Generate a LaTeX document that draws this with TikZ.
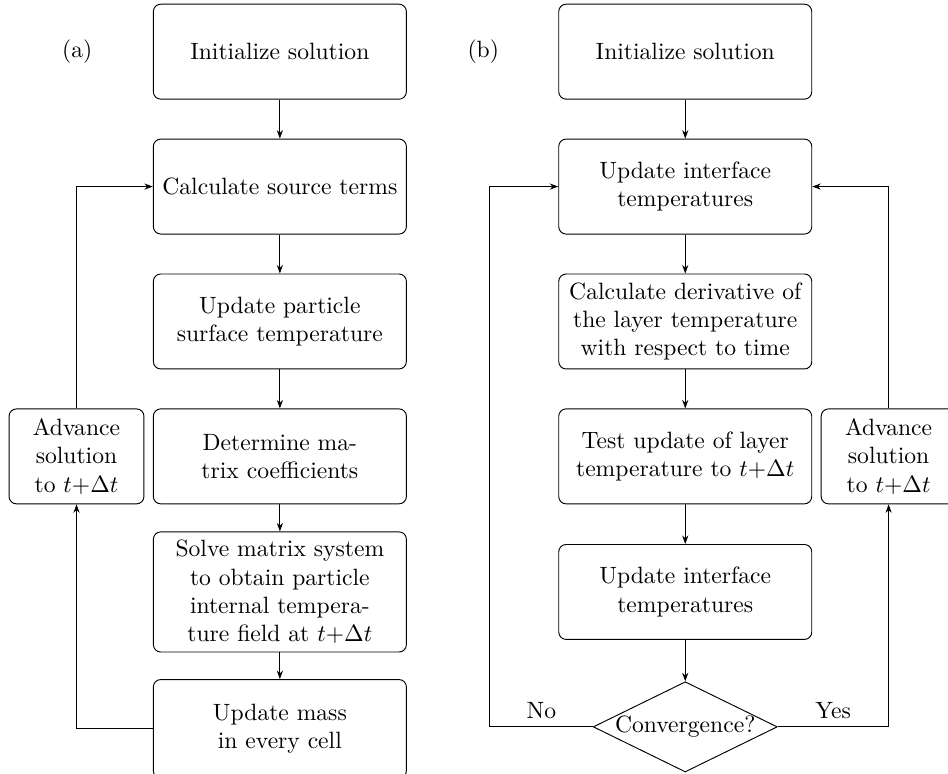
\documentclass[tikz,border=0pt]{standalone}
\usepackage{amsmath, amssymb}
\usepackage{tikz}
\usetikzlibrary{arrows.meta, shapes.geometric, calc}

\begin{document}
\begin{tikzpicture}[>={Stealth[length=3.6pt, width=2.6pt]},
    block/.style={rectangle, draw, rounded corners=1.1mm, align=center,
                  minimum width=3.77cm, minimum height=1.415cm, inner sep=2pt},
    sidebox/.style={block, minimum width=2.01cm},
    decision/.style={diamond, draw, aspect=2.04, inner sep=0pt,
                     minimum width=2.73cm, minimum height=1.34cm}]
  \useasboundingbox (0,0) rectangle (14.125,-11.518);

  % (a) particle
  \node (laba) at (1.15,-0.77) {(a)};
  \node[block] (inita) at (4.17,-0.77)  {Initialize solution};
  \node[block] (src)   at (4.17,-2.78)  {Calculate source terms};
  \node[block] (surf)  at (4.17,-4.79)  {Update particle\\surface temperature};
  \node[block] (coef)  at (4.17,-6.80)  {Determine ma-\\trix coefficients};
  \node[block, minimum height=1.79cm] (solve) at (4.17,-8.82)
        {Solve matrix system\\to obtain particle\\internal tempera-\\ture field at $t{+}\Delta t$};
  \node[block, minimum height=1.47cm] (mass) at (4.17,-10.86) {Update mass\\in every cell};
  \node[sidebox] (adva) at (1.14,-6.80) {Advance\\solution\\to $t{+}\Delta t$};

  \draw[->] (inita) -- (src);
  \draw[->] (src)   -- (surf);
  \draw[->] (surf)  -- (coef);
  \draw[->] (coef)  -- (solve);
  \draw[->] (solve) -- (mass);
  \draw[->] (mass.west) -| (adva.south);
  \draw[->] (adva.north) |- (src.west);

  % (b) layer
  \node (labb) at (7.20,-0.77) {(b)};
  \node[block] (initb) at (10.21,-0.77)  {Initialize solution};
  \node[block] (intf)  at (10.21,-2.78)  {Update interface\\temperatures};
  \node[block] (deriv) at (10.21,-4.79)  {Calculate derivative of\\the layer temperature\\with respect to time};
  \node[block] (test)  at (10.21,-6.80)  {Test update of layer\\temperature to $t{+}\Delta t$};
  \node[block] (intf2) at (10.21,-8.82)  {Update interface\\temperatures};
  \node[decision] (conv) at (10.21,-10.83) {Convergence?};
  \node[sidebox] (advb) at (13.24,-6.80) {Advance\\solution\\to $t{+}\Delta t$};
  \coordinate (loopb) at (7.30,-10.83);

  \draw[->] (initb) -- (intf);
  \draw[->] (intf)  -- (deriv);
  \draw[->] (deriv) -- (test);
  \draw[->] (test)  -- (intf2);
  \draw[->] (intf2) -- (conv);
  \draw[->] (conv.west) -- node[above]{No} (loopb) |- (intf.west);
  \draw[->] (conv.east) -- node[above]{Yes} (conv.east -| advb.south) -- (advb.south);
  \draw[->] (advb.north) |- (intf.east);
\end{tikzpicture}
\end{document}
